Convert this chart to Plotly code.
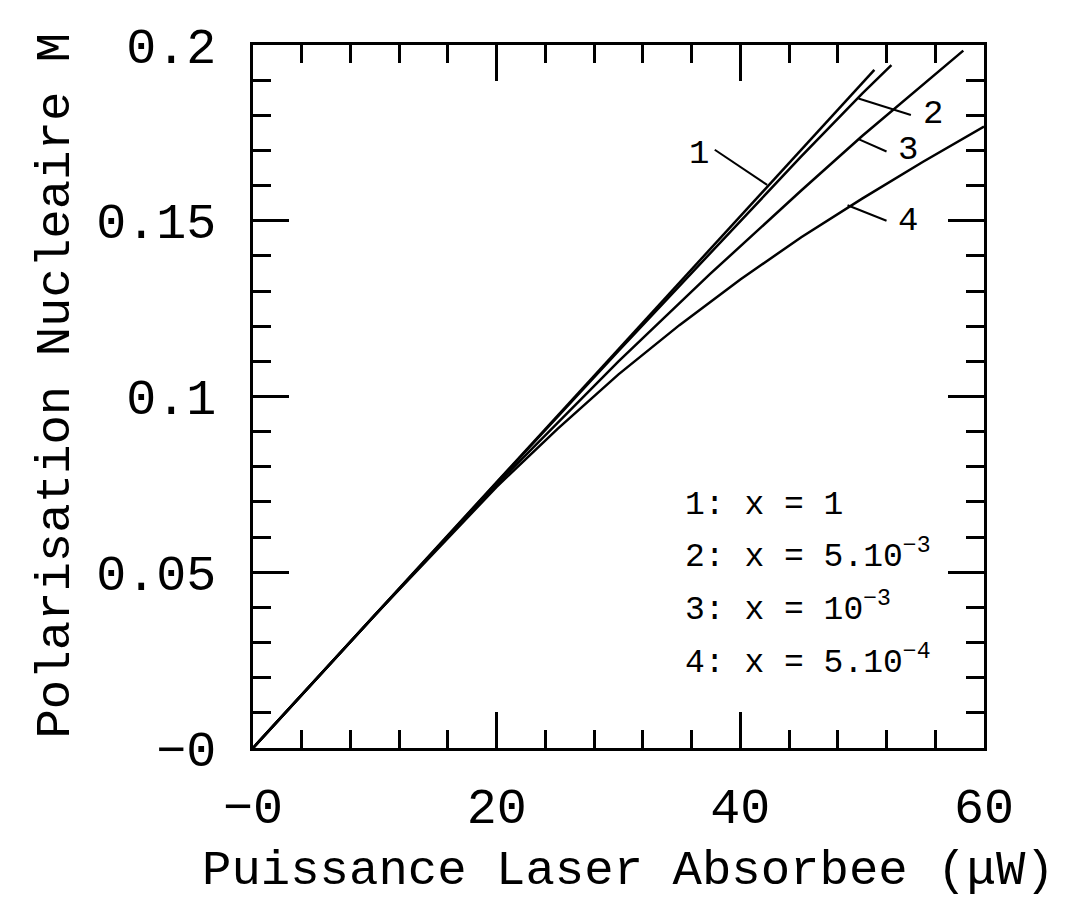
import plotly.graph_objects as go

# ---- data ----
x1 = [0, 10, 20, 30, 40, 51.0]
y1 = [0, 0.0378, 0.0756, 0.1134, 0.1512, 0.1929]

x2 = [0, 10, 20, 30, 40, 45, 50, 52.4]
y2 = [0, 0.0378, 0.0755, 0.1130, 0.1500, 0.1683, 0.1862, 0.1943]

x3 = [0, 10, 20, 30, 37.5, 45, 50, 58.3]
y3 = [0, 0.0378, 0.0750, 0.1100, 0.1348, 0.1586, 0.1741, 0.1984]

x4 = [0, 10, 20, 25, 30, 35, 40, 45, 50, 55, 60]
y4 = [0, 0.0378, 0.0743, 0.0908, 0.1063, 0.1203, 0.1333, 0.1453, 0.1563, 0.1668, 0.1768]

x_tickvals = [0, 20, 40, 60]
x_ticktext = ["\u22120", "20", "40", "60"]
y_tickvals = [0, 0.05, 0.1, 0.15, 0.2]
y_ticktext = ["\u22120", "0.05", "0.1", "0.15", "0.2"]

curve_labels = ["1", "2", "3", "4"]
legend_lines = ["1: x = 1",
                "2: x = 5.10<sup>\u22123</sup>",
                "3: x = 10<sup>\u22123</sup>",
                "4: x = 5.10<sup>\u22124</sup>"]

x_title = "Puissance Laser Absorbee (\u03bcW)"
y_title = "Polarisation Nucleaire M"

FONT = "Liberation Mono, Courier New, monospace"

fig = go.Figure()
for xs, ys in [(x1, y1), (x2, y2), (x3, y3), (x4, y4)]:
    fig.add_trace(go.Scatter(x=xs, y=ys, mode="lines",
                             line=dict(color="black", width=2.5),
                             showlegend=False, hoverinfo="skip"))

# leader lines for curve labels: (start x, start y, end x, end y, label x, label y)
leaders = [
    (37.9, 0.1702, 42.2, 0.1602, 36.6, 0.1690),
    (54.0, 0.1801, 49.7, 0.1848, 55.8, 0.1803),
    (52.0, 0.1697, 49.7, 0.1732, 53.8, 0.1700),
    (52.0, 0.1500, 48.8, 0.1544, 53.8, 0.1500),
]
for lab, (sx, sy, ex, ey, lx, ly) in zip(curve_labels, leaders):
    fig.add_shape(type="line", x0=sx, y0=sy, x1=ex, y1=ey, xref="x", yref="y",
                  line=dict(color="black", width=2))
    fig.add_annotation(x=lx, y=ly, xref="x", yref="y", text=lab, showarrow=False,
                       font=dict(family=FONT, size=34, color="black"),
                       xanchor="center", yanchor="middle")

legend_y = [0.0690, 0.0550, 0.0401, 0.0249]
for txt, ly in zip(legend_lines, legend_y):
    fig.add_annotation(x=35.3, y=ly, xref="x", yref="y", text=txt, showarrow=False,
                       font=dict(family=FONT, size=33, color="black"),
                       xanchor="left", yanchor="middle")

fig.add_annotation(x=0.513, y=-0.175, xref="paper", yref="paper", text=x_title,
                   showarrow=False, font=dict(family=FONT, size=49, color="black"),
                   xanchor="center", yanchor="middle")
fig.add_annotation(x=-0.27, y=0.515, xref="paper", yref="paper", text=y_title,
                   showarrow=False, textangle=-90,
                   font=dict(family=FONT, size=49, color="black"),
                   xanchor="center", yanchor="middle")

axis_common = dict(showgrid=False, zeroline=False, showline=True, linecolor="black",
                   linewidth=2.5, mirror="ticks", ticks="inside", ticklen=36,
                   tickwidth=2.5, tickcolor="black",
                   tickfont=dict(family=FONT, size=50, color="black"))

fig.update_xaxes(range=[0, 60], tickvals=x_tickvals, ticktext=x_ticktext,
                 minor=dict(dtick=4, ticks="inside", ticklen=18, tickwidth=2.5,
                            tickcolor="black"),
                 ticklabelstandoff=12, **axis_common)
fig.update_yaxes(range=[0, 0.2], tickvals=y_tickvals, ticktext=y_ticktext,
                 minor=dict(dtick=0.01, ticks="inside", ticklen=18, tickwidth=2.5,
                            tickcolor="black"),
                 ticklabelstandoff=24, **axis_common)

fig.update_layout(width=1074, height=900, plot_bgcolor="white", paper_bgcolor="white",
                  margin=dict(l=245, r=98, t=30, b=160), showlegend=False)

fig.write_html("out.html")
